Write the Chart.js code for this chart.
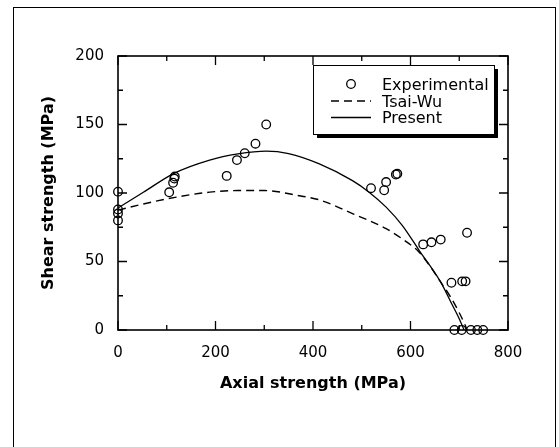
<!DOCTYPE html>
<html><head><meta charset="utf-8">
<script src="https://cdn.jsdelivr.net/npm/chart.js@4/dist/chart.umd.min.js"></script>
<style>html,body{margin:0;padding:0;background:#fff;}#wrap{width:559px;height:447px;position:relative;}</style>
</head><body><div id="wrap"><canvas id="c" width="559" height="447"></canvas></div>
<script>
// Experimental data (Axial strength, Shear strength) in MPa
const expX = [0, 0, 0, 0, 105, 113, 115.5, 116.5, 223, 244, 260, 282, 304, 519, 546, 550, 570, 573, 626, 643, 662, 716, 684, 706, 713, 690, 705, 724, 737, 749];
const expY = [101, 88, 85, 80, 100.5, 107.5, 110.5, 112, 112.5, 124, 129, 136, 150, 103.5, 102, 108, 113.5, 114, 62.5, 64, 66, 71, 34.5, 35.5, 35.5, 0, 0, 0, 0, 0];
// Tsai-Wu criterion curve
const tsaiX = [0, 52, 120, 188, 246, 300, 372, 413, 481, 550, 597, 613, 630, 645, 660, 682, 699, 712, 716];
const tsaiY = [87.5, 92, 97, 100.6, 101.8, 101.8, 98, 95, 85, 74, 63, 58.5, 51.5, 44, 36, 24.2, 13.3, 3.6, 0];
// Present criterion curve
const presX = [0, 52, 113, 188, 246, 304, 350, 413, 481, 515, 550, 583, 618, 662, 685, 698, 710];
const presY = [89, 100.5, 114, 124, 128.5, 130.5, 128.7, 121.2, 109, 100.6, 89.7, 76.4, 58, 35, 18.8, 9.7, 0];
// Tick labels
const xLabels = [0, 200, 400, 600, 800];
const yLabels = [0, 50, 100, 150, 200];
const seriesNames = ['Experimental', 'Tsai-Wu', 'Present'];
const xTitle = 'Axial strength (MPa)';
const yTitle = 'Shear strength (MPa)';

const toPts = (xs, ys) => xs.map((v, i) => ({x: v, y: ys[i]}));
const FONT = 'DejaVu Sans';

const decor = {
  id: 'decor',
  beforeDraw(chart) {
    const ctx = chart.ctx;
    ctx.save();
    ctx.fillStyle = '#fff';
    ctx.fillRect(0, 0, chart.width, chart.height);
    ctx.strokeStyle = '#000';
    ctx.lineWidth = 1;
    ctx.strokeRect(13.5, 7.5, 542, 470);
    ctx.restore();
  },
  afterDatasetsDraw(chart) {
    const ctx = chart.ctx;
    const a = chart.chartArea;
    const x = chart.scales.x, y = chart.scales.y;
    ctx.save();
    ctx.strokeStyle = '#000';
    ctx.lineWidth = 1.6;
    ctx.strokeRect(a.left, a.top, a.right - a.left, a.bottom - a.top);
    ctx.lineWidth = 1.3;
    ctx.beginPath();
    x.ticks.forEach(t => {
      const px = x.getPixelForValue(t.value);
      const L = xLabels.includes(t.value) ? 9 : 5;
      ctx.moveTo(px, a.bottom); ctx.lineTo(px, a.bottom - L);
      ctx.moveTo(px, a.top); ctx.lineTo(px, a.top + L);
    });
    y.ticks.forEach(t => {
      const py = y.getPixelForValue(t.value);
      const L = yLabels.includes(t.value) ? 9 : 5;
      ctx.moveTo(a.left, py); ctx.lineTo(a.left + L, py);
      ctx.moveTo(a.right, py); ctx.lineTo(a.right - L, py);
    });
    ctx.stroke();

    // legend box with shadow
    const bx = 313, by = 65, bw = 181, bh = 69, sh = 4;
    ctx.fillStyle = '#000';
    ctx.fillRect(bx + sh, by + sh, bw, bh);
    ctx.fillStyle = '#fff';
    ctx.fillRect(bx, by, bw, bh);
    ctx.lineWidth = 1;
    ctx.strokeRect(bx + 0.5, by + 0.5, bw, bh);
    const ds = chart.data.datasets;
    const rows = [89.5, 106.5, 123];
    ctx.font = '16px "' + FONT + '"';
    ctx.textBaseline = 'alphabetic';
    ctx.textAlign = 'left';
    ds.forEach((d, i) => {
      const base = rows[i];
      const cy = base - 5.5;
      ctx.strokeStyle = '#000';
      if (d.showLine) {
        ctx.lineWidth = d.borderWidth;
        ctx.setLineDash(d.borderDash || []);
        ctx.beginPath(); ctx.moveTo(331, cy); ctx.lineTo(371, cy); ctx.stroke();
        ctx.setLineDash([]);
      } else {
        ctx.lineWidth = d.borderWidth;
        ctx.beginPath(); ctx.arc(351, cy, d.pointRadius, 0, Math.PI * 2); ctx.stroke();
      }
      ctx.fillStyle = '#000';
      ctx.fillText(d.label, 382, base);
    });
    ctx.restore();
  }
};

new Chart(document.getElementById('c'), {
  type: 'scatter',
  data: {
    datasets: [
      {label: seriesNames[0], data: toPts(expX, expY), showLine: false, pointRadius: 4.3, pointHoverRadius: 4.3,
       borderWidth: 1.3, borderColor: '#000', backgroundColor: 'rgba(0,0,0,0)', clip: false},
      {label: seriesNames[1], data: toPts(tsaiX, tsaiY), showLine: true, pointRadius: 0, borderWidth: 1.4,
       borderColor: '#000', borderDash: [8, 5], cubicInterpolationMode: 'monotone', clip: false},
      {label: seriesNames[2], data: toPts(presX, presY), showLine: true, pointRadius: 0, borderWidth: 1.3,
       borderColor: '#000', cubicInterpolationMode: 'monotone', clip: false}
    ]
  },
  options: {
    responsive: false,
    animation: false,
    events: [],
    layout: {padding: {top: 56, right: 51, left: 0, bottom: 0}},
    plugins: {legend: {display: false}, tooltip: {enabled: false}},
    scales: {
      x: {
        type: 'linear', min: 0, max: 800,
        ticks: {stepSize: 100, autoSkip: false, maxRotation: 0, padding: 14, color: '#000',
          font: {family: FONT, size: 15},
          callback: v => xLabels.includes(v) ? String(v) : ''},
        grid: {display: false, drawTicks: false},
        border: {display: false},
        title: {display: true, text: xTitle, color: '#000',
          font: {family: FONT, size: 16, weight: 'bold'}, padding: {top: 0, bottom: 54}},
        afterFit: s => { s.height = 117; }
      },
      y: {
        type: 'linear', min: 0, max: 200,
        ticks: {stepSize: 25, autoSkip: false, padding: 14, color: '#000',
          font: {family: FONT, size: 15},
          callback: v => yLabels.includes(v) ? String(v) : ''},
        grid: {display: false, drawTicks: false},
        border: {display: false},
        title: {display: true, text: yTitle, color: '#000',
          font: {family: FONT, size: 16, weight: 'bold'}, padding: {top: 39, bottom: 0}},
        afterFit: s => { s.width = 118; }
      }
    }
  },
  plugins: [decor]
});
</script>
</body></html>
